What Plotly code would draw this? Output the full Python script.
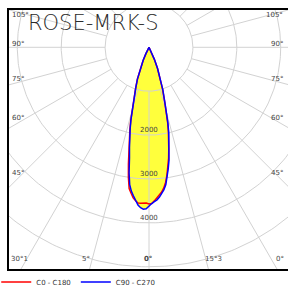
import numpy as np
import plotly.graph_objects as go

# ---------------- data ----------------
title_text = "ROSE-MRK-S"
gamma = [0, 1, 2, 3, 4, 5, 6, 7, 8, 9, 10, 11, 12, 13, 14, 15, 16, 18, 20, 22, 24, 26, 28, 30, 35, 40, 90, 180]
c0 = [3570, 3560, 3500, 3440, 3380, 3310, 3220, 3100, 2940, 2750, 2570, 2360, 2160, 1960, 1750, 1530, 1300, 1000, 760, 520, 300, 140, 40, 0, 0, 0, 0, 0]
c180 = [3570, 3550, 3545, 3555, 3555, 3510, 3450, 3350, 3250, 3000, 2700, 2400, 2170, 1940, 1720, 1490, 1260, 990, 775, 560, 330, 160, 50, 5, 0, 0, 0, 0]
c90 = [3615, 3560, 3520, 3480, 3420, 3350, 3260, 3150, 2990, 2800, 2620, 2400, 2200, 2000, 1780, 1550, 1320, 1020, 760, 520, 300, 140, 40, 0, 0, 0, 0, 0]
c270 = [3615, 3680, 3690, 3660, 3600, 3500, 3400, 3300, 3160, 2900, 2560, 2330, 2120, 1910, 1700, 1480, 1250, 980, 770, 560, 330, 160, 50, 5, 0, 0, 0, 0]
series_names = ["C0 - C180", "C90 - C270"]
ring_values = [1000, 2000, 3000, 4000, 5000, 6000, 7000]
ring_labels = ["2000", "3000", "4000"]
spoke_angles = list(range(0, 360, 15))
side_labels = ["105°", "90°", "75°", "60°", "45°"]
bottom_labels = ["30°1", "5°", "0°", "15°3", "0°"]

# ---------------- layout helpers ----------------
W, H = 288, 285
CX, CY = 149, 47.3          # pixel position of the pole
SCALE = 43.9 / 1000.0       # px per cd
ML, MT, MR, MB = 8, 9, 0, 15


def dx(px):
    return (px - CX) / SCALE


def dy(py):
    return -(py - CY) / SCALE


def curve(left, right):
    g = np.radians(np.array(gamma, dtype=float))
    L = np.array(left, dtype=float)
    R = np.array(right, dtype=float)
    xl = -L * np.sin(g)
    yl = -L * np.cos(g)
    xr = R * np.sin(g)
    yr = -R * np.cos(g)
    x = np.concatenate([xl[::-1], xr])
    y = np.concatenate([yl[::-1], yr])
    return x, y


GRID = "#d2d2d2"
fig = go.Figure()

xr_, yr_ = curve(c180, c0)
xb_, yb_ = curve(c270, c90)

# yellow fill
for xx, yy in [(xr_, yr_), (xb_, yb_)]:
    fig.add_trace(go.Scatter(x=xx, y=yy, mode="lines", fill="toself",
                             fillcolor="#ffff3c", line=dict(width=0, color="#ffff3c"),
                             showlegend=False, hoverinfo="skip"))

# rings
t = np.linspace(0, 2 * np.pi, 361)
for r in ring_values:
    fig.add_trace(go.Scatter(x=r * np.cos(t), y=r * np.sin(t), mode="lines",
                             line=dict(color=GRID, width=1), showlegend=False, hoverinfo="skip"))
# spokes
sx, sy = [], []
for a in spoke_angles:
    ar = np.radians(a)
    sx += [ring_values[0] * np.sin(ar), 9000 * np.sin(ar), None]
    sy += [-ring_values[0] * np.cos(ar), -9000 * np.cos(ar), None]
fig.add_trace(go.Scatter(x=sx, y=sy, mode="lines", line=dict(color=GRID, width=1),
                         showlegend=False, hoverinfo="skip"))

# curves
fig.add_trace(go.Scatter(x=xr_, y=yr_, mode="lines", name=series_names[0],
                         line=dict(color="#ff0000", width=1.5)))
fig.add_trace(go.Scatter(x=xb_, y=yb_, mode="lines", name=series_names[1],
                         line=dict(color="#0000ff", width=1.5)))

ann = []
lab_font = dict(family="DejaVu Sans", size=7, color="#444444")
for i, lab in enumerate(ring_labels):
    r = ring_values[i + 1]
    ann.append(dict(x=0, y=-r, text=lab, showarrow=False, font=lab_font,
                    xanchor="center", yanchor="bottom", yshift=-1))

left_y = [14.5, 44, 79, 118.3, 172.7]
right_y = [15, 44.3, 79, 118.3, 173.3]
for lab, yl, yr in zip(side_labels, left_y, right_y):
    ann.append(dict(x=dx(10), y=dy(yl), text=lab, showarrow=False, font=lab_font,
                    xanchor="left", yanchor="middle"))
    ann.append(dict(x=dx(284.5), y=dy(yr), text=lab, showarrow=False, font=lab_font,
                    xanchor="right", yanchor="middle"))

bottom_x = [19.5, 86, 147.5, 213.5, 280]
for lab, bx in zip(bottom_labels, bottom_x):
    txt = "<b>" + lab + "</b>" if bx == 147.5 else lab
    ann.append(dict(x=dx(bx), y=dy(258.5), text=txt, showarrow=False, font=lab_font,
                    xanchor="center", yanchor="middle"))

ann.append(dict(x=dx(26), y=dy(23), text=title_text, showarrow=False,
                font=dict(family="DejaVu Sans", size=21, color="#2a2a2a", weight=200),
                xanchor="left", yanchor="middle"))

fig.update_layout(
    width=W, height=H,
    margin=dict(l=ML, r=MR, t=MT, b=MB, pad=0, autoexpand=False),
    paper_bgcolor="white", plot_bgcolor="white",
    xaxis=dict(range=[dx(ML), dx(W - MR)], visible=False, fixedrange=True),
    yaxis=dict(range=[dy(H - MB), dy(MT)], visible=False, fixedrange=True),
    annotations=ann,
    shapes=[dict(type="rect", xref="paper", yref="paper", x0=0, x1=1.2, y0=0, y1=1,
                 line=dict(color="black", width=2), layer="above")],
    legend=dict(orientation="h", x=-0.042, y=1 - (282 - MT) / (H - MT - MB),
                xanchor="left", yanchor="middle",
                font=dict(family="DejaVu Sans", size=7, color="#333333"),
                bgcolor="rgba(0,0,0,0)", itemwidth=30, tracegroupgap=0),
    showlegend=True,
)

fig.write_html("out.html", config={"displayModeBar": False},
               post_script="document.body.style.margin='0';document.body.style.overflow='hidden';")
